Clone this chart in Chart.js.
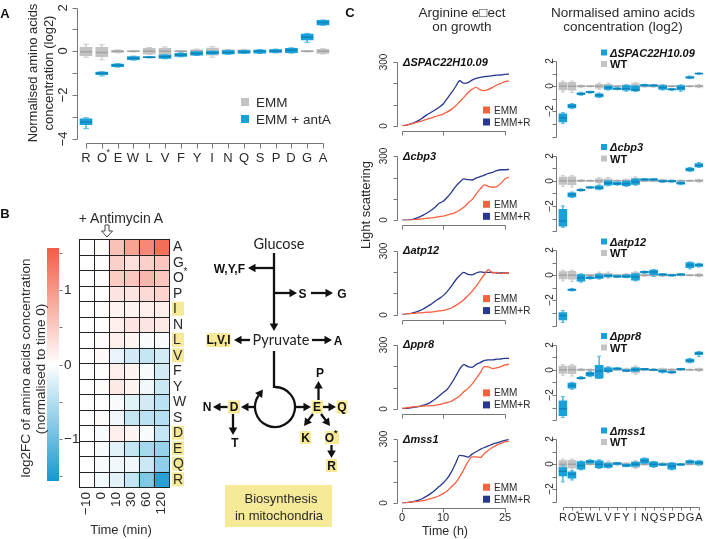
<!DOCTYPE html>
<html><head><meta charset="utf-8">
<script src="https://cdn.jsdelivr.net/npm/chart.js@4.4.1/dist/chart.umd.min.js"></script>
<style>
html,body{margin:0;padding:0;background:#fff;}
#wrap{position:relative;width:709px;height:539px;overflow:hidden;background:#fff;}
#wrap canvas{position:absolute;left:0;top:0;}
#ann{position:absolute;left:0;top:0;}
</style></head><body>
<div id="wrap">
<canvas id="cA" width="709" height="539"></canvas>
<canvas id="cHeat" width="709" height="539"></canvas>
<canvas id="cBar" width="709" height="539"></canvas>
<canvas id="cG0" width="709" height="539"></canvas>
<canvas id="cG1" width="709" height="539"></canvas>
<canvas id="cG2" width="709" height="539"></canvas>
<canvas id="cG3" width="709" height="539"></canvas>
<canvas id="cG4" width="709" height="539"></canvas>
<canvas id="cB0" width="709" height="539"></canvas>
<canvas id="cB1" width="709" height="539"></canvas>
<canvas id="cB2" width="709" height="539"></canvas>
<canvas id="cB3" width="709" height="539"></canvas>
<canvas id="cB4" width="709" height="539"></canvas>
<svg id="ann" width="709" height="539" xmlns="http://www.w3.org/2000/svg"></svg>
</div>
<script>
// ---------------- DATA ----------------
const aminoAcids = ['R','O*','E','W','L','V','F','Y','I','N','Q','S','P','D','G','A'];
// boxes: [lower whisker, Q1, median, Q3, upper whisker]
const emmBox = [
 [-0.27,-0.2,-0.02,0.18,0.33],[-0.39,-0.24,-0.05,0.18,0.3],[-0.07,-0.05,0,0.05,0.07],[-0.03,-0.02,0,0.02,0.03],
 [-0.15,-0.12,0,0.14,0.17],[-0.25,-0.17,0,0.14,0.2],[-0.03,-0.02,0,0.02,0.03],[-0.1,-0.07,0,0.07,0.1],
 [-0.27,-0.17,0,0.15,0.22],[-0.09,-0.07,0,0.07,0.09],[-0.09,-0.07,0,0.07,0.09],[-0.07,-0.05,0,0.05,0.07],
 [-0.05,-0.04,0,0.04,0.05],[-0.03,-0.02,0,0.02,0.03],[-0.03,-0.02,0,0.02,0.03],[-0.12,-0.09,0,0.09,0.12]];
const antABox = [
 [-3.53,-3.35,-3.22,-3.08,-3.03],[-1.12,-1.06,-1.0,-0.95,-0.93],[-0.72,-0.7,-0.64,-0.58,-0.56],[-0.4,-0.38,-0.31,-0.24,-0.22],
 [-0.3,-0.29,-0.27,-0.25,-0.24],[-0.34,-0.32,-0.25,-0.17,-0.15],[-0.25,-0.23,-0.17,-0.09,-0.07],[-0.19,-0.17,-0.1,-0.02,0.0],
 [-0.14,-0.12,-0.08,0.0,0.02],[-0.14,-0.12,-0.05,0.03,0.05],[-0.1,-0.08,-0.03,0.03,0.05],[-0.1,-0.08,0.0,0.06,0.08],
 [-0.07,-0.05,0.02,0.08,0.1],[-0.08,-0.06,0.05,0.14,0.16],[0.41,0.52,0.64,0.79,0.82],[1.19,1.21,1.32,1.41,1.43]];
const aYTicks = [2,1,0,-1,-2,-3,-4];
const aYLabels = ['2','','0','','\u22122','','\u22124'];

const heatTimes = ['\u221210','0','10','30','60','120'];
const heatRows = ['A','G','O*','P','I','N','L','V','F','Y','W','S','D','E','Q','R'];
const mitoRows = ['I','L','V','D','E','Q','R'];
const heatLog2FC = [
 [0,0.03,0.6,0.9,1.15,1.4],      // A
 [0,0.02,0.45,0.3,0.45,0.55],    // G
 [0,0.02,0.5,0.55,0.7,0.55],     // O*
 [0,0.02,0.25,0.25,0.35,0.4],    // P
 [0,0,0.1,0.1,0.15,0.15],        // I
 [0,0,0.15,0.25,0.25,0.2],       // N
 [0,0.03,0.15,0.1,-0.05,-0.05],  // L
 [0,0.05,-0.15,-0.3,-0.4,-0.3],  // V
 [0,0.02,0.15,0.1,-0.05,-0.3],   // F
 [0,0.03,0.2,0.1,-0.1,-0.35],    // Y
 [0,0,-0.05,-0.2,-0.3,-0.45],    // W
 [0,0.03,-0.1,-0.4,-0.45,-0.5],  // S
 [0,-0.05,0.15,0.1,-0.05,-0.4],  // D
 [0,-0.05,-0.2,-0.4,-0.6,-0.7],  // E
 [0,-0.05,-0.1,-0.1,-0.35,-0.75],// Q
 [0,-0.08,-0.2,-0.4,-0.85,-1.45] // R
];
const cbTicks = [-1.5,-1,-0.5,0,0.5,1,1.5];
const cbLabels = ['','\u22121','','0','','1',''];

const strains = ['\u0394SPAC22H10.09','\u0394cbp3','\u0394atp12','\u0394ppr8','\u0394mss1'];
const growthTime = [0,1,2,3,4,5,6,7,8,9,10,11,12,13,14,15,16,17,18,19,20,21,22,23,24,25,26];
const emmSPAC  = [0,4,9,14,19,25,31,37,44,50,56,66,78,94,114,134,156,172,181,169,166,172,181,192,200,208,212];
const argSPAC  = [0,4,9,16,25,38,52,63,75,88,103,130,156,184,212,200,203,215,223,228,231,234,236,238,239,242,244];
const emmCbp3  = [0,0,0,3,5,7,9,11,14,17,20,25,30,37,48,61,80,97,123,147,166,159,155,158,173,194,202];
const argCbp3  = [0,1,2,7,14,23,33,46,61,80,89,108,131,158,178,194,191,189,198,205,212,220,225,233,237,237,239];
const emmAtp12 = [0,3,5,6,8,9,11,12,14,17,20,25,31,42,55,70,89,109,133,161,188,211,195,198,192,195,195];
const argAtp12 = [0,2,5,10,16,25,36,48,62,75,89,109,133,161,183,198,188,186,195,200,198,198,198,195,195,195,195];
const emmPpr8  = [3,5,8,10,12,13,14,15,17,20,25,30,36,48,61,80,95,116,142,170,198,197,189,192,198,206,209];
const argPpr8  = [0,2,5,8,11,16,22,32,45,60,77,92,120,152,186,208,198,195,209,217,228,230,230,233,234,237,237];
const emmMss1  = [0,2,5,7,9,12,16,21,27,35,45,58,77,95,123,158,194,217,217,214,233,248,261,272,280,287,291];
const argMss1  = [0,2,5,9,14,22,33,46,61,78,95,116,147,186,224,222,216,230,241,252,261,269,277,283,289,295,300];
const growthYTicks = [0,100,200,300];
const growthYLabels = ['0','','','300'];
const growthXTicks = [0,10,25];
const growthXLabels = ['0','10','25'];

const wtBox = [
 [-0.45,-0.3,0,0.28,0.4],[-0.5,-0.32,0,0.3,0.4],[-0.08,-0.05,0,0.05,0.08],[-0.05,-0.03,0,0.03,0.05],
 [-0.25,-0.15,0,0.15,0.25],[-0.25,-0.15,0,0.15,0.25],[-0.05,-0.03,0,0.03,0.05],[-0.12,-0.08,0,0.08,0.12],
 [-0.35,-0.25,0,0.2,0.3],[-0.08,-0.05,0,0.05,0.08],[-0.08,-0.05,0,0.05,0.08],[-0.12,-0.08,0,0.08,0.12],
 [-0.06,-0.04,0,0.04,0.06],[-0.05,-0.03,0,0.03,0.05],[-0.05,-0.03,0,0.03,0.05],[-0.12,-0.08,0,0.08,0.12]];
const boxSPAC = [
 [-2.95,-2.83,-2.5,-2.19,-2.1],[-1.78,-1.73,-1.6,-1.44,-1.38],[-0.72,-0.68,-0.6,-0.52,-0.48],[-0.55,-0.52,-0.47,-0.42,-0.4],
 [-0.9,-0.85,-0.72,-0.6,-0.55],[-0.3,-0.25,-0.13,0.0,0.05],[-0.28,-0.25,-0.2,-0.12,-0.08],[-0.4,-0.32,-0.2,0.05,0.1],
 [-0.42,-0.38,-0.28,0.0,0.05],[0.0,0.03,0.08,0.12,0.15],[0.0,0.02,0.05,0.1,0.12],[-0.3,-0.25,-0.1,0.05,0.1],
 [-0.35,-0.3,-0.25,-0.2,-0.18],[-0.4,-0.3,-0.15,0.05,0.1],[0.6,0.63,0.7,0.76,0.8],[0.95,0.97,1.0,1.03,1.05]];
const boxCbp3 = [
 [-3.7,-3.6,-3.2,-2.27,-2.0],[-1.35,-1.28,-1.1,-0.96,-0.9],[-0.82,-0.8,-0.75,-0.68,-0.65],[-0.6,-0.58,-0.53,-0.48,-0.45],
 [-0.72,-0.67,-0.55,-0.4,-0.35],[-0.4,-0.35,-0.2,-0.03,0.0],[-0.35,-0.32,-0.25,-0.12,-0.08],[-0.45,-0.4,-0.25,-0.05,0.0],
 [-0.35,-0.3,-0.1,0.12,0.15],[0.02,0.05,0.1,0.15,0.18],[0.02,0.05,0.1,0.15,0.18],[-0.12,-0.1,-0.05,0.0,0.03],
 [-0.12,-0.1,-0.05,0.0,0.03],[-0.32,-0.28,-0.2,-0.1,-0.07],[0.75,0.78,0.88,1.0,1.05],[1.05,1.1,1.2,1.35,1.45]];
const boxAtp12 = [
 [-3.75,-3.55,-3.2,-2.96,-2.8],[-1.25,-1.2,-1.15,-1.1,-1.05],[-0.55,-0.48,-0.2,0.05,0.1],[-0.3,-0.27,-0.2,-0.13,-0.1],
 [-0.3,-0.25,-0.15,0.05,0.1],[-0.15,-0.12,-0.05,0.02,0.05],[-0.18,-0.15,-0.1,-0.05,-0.02],[-0.2,-0.17,-0.1,0.0,0.05],
 [-0.45,-0.4,-0.15,0.1,0.15],[0.15,0.18,0.25,0.3,0.33],[-0.1,0.05,0.25,0.4,0.45],[-0.02,0.0,0.05,0.1,0.12],
 [-0.07,-0.05,0.0,0.05,0.07],[-0.02,0.0,0.05,0.1,0.12],[0.5,0.6,0.78,1.0,1.05],[0.65,0.7,0.8,0.9,0.95]];
const boxPpr8 = [
 [-3.8,-3.65,-3.1,-2.48,-2.13],[-1.55,-1.47,-1.25,-1.07,-1.0],[-0.75,-0.72,-0.67,-0.6,-0.55],[-0.55,-0.5,-0.35,-0.2,-0.15],
 [-0.7,-0.67,-0.1,0.35,1.07],[-0.2,-0.15,-0.08,0.15,0.2],[0.0,0.03,0.08,0.15,0.18],[-0.15,-0.12,-0.08,-0.02,0.0],
 [-0.15,-0.12,0.0,0.12,0.15],[-0.02,0.0,0.05,0.08,0.1],[-0.05,-0.03,0.0,0.03,0.05],[-0.25,-0.2,-0.13,-0.05,-0.02],
 [-0.28,-0.25,-0.2,-0.15,-0.12],[-0.02,0.0,0.05,0.08,0.1],[0.55,0.6,0.72,0.85,0.9],[1.05,1.2,1.3,1.4,1.45]];
const boxMss1 = [
 [-1.4,-0.93,-0.55,-0.27,-0.1],[-1.25,-1.1,-0.8,-0.6,-0.5],[-0.45,-0.4,-0.1,0.2,0.25],[0.05,0.08,0.2,0.3,0.35],
 [-0.35,-0.27,0.0,0.27,0.35],[-0.3,-0.25,-0.1,0.05,0.1],[-0.05,-0.02,0.05,0.12,0.15],[-0.2,-0.17,-0.1,-0.02,0.0],
 [-0.2,-0.15,0.0,0.15,0.2],[0.05,0.08,0.27,0.45,0.5],[-0.25,-0.2,0.0,0.18,0.22],[-0.1,-0.08,-0.03,0.02,0.05],
 [-0.45,-0.4,-0.15,0.08,0.12],[-0.1,-0.08,-0.03,0.02,0.05],[0.05,0.08,0.18,0.28,0.32],[-0.05,0.0,0.12,0.25,0.3]];
const boxYTicks = [2,1,0,-1,-2,-3,-4];
const boxYLabels = ['2','','0','','\u22122','',''];

// ---------------- STYLE ----------------
const FONT = "'Liberation Sans', Arial, Helvetica, sans-serif";
const DFONT = "Lato, 'Liberation Sans', sans-serif";
const BLUE = '#1AA0D8', BLUE_MED = '#0B84BC', BLUE_WH = '#5DBBE3';
const GREY = '#C3C3C3', GREY_MED = '#A3A3A3', GREY_WH = '#D0D0D0';
const EMM_RED = '#F8603F', ARG_NAVY = '#283891';
const AXIS = '#777', LABEL = '#2a2a2a', HL = '#F6EA98';
const HEAT_HIGH = [242,92,69], HEAT_LOW = [22,152,208], HEAT_LIM = 1.57;

function pad(l, t, r, b) { return {left: l, top: t, right: 709 - r, bottom: 539 - b}; }
function heatColor(v) {
  const t = Math.max(-1, Math.min(1, v / HEAT_LIM));
  const end = t >= 0 ? HEAT_HIGH : HEAT_LOW, a = Math.abs(t);
  return 'rgb(' + end.map(c => Math.round(255 + (c - 255) * a)).join(',') + ')';
}
function drawSup(ctx, lab, x, y, size, align) {
  ctx.textBaseline = 'middle';
  if (lab.endsWith('*')) {
    const base = lab.slice(0, -1);
    const w = ctx.measureText(base).width;
    const x0 = align === 'center' ? x - w / 2 : x;
    ctx.textAlign = 'left';
    ctx.fillText(base, x0, y);
    ctx.save(); ctx.font = Math.round(size * 0.72) + 'px ' + FONT;
    ctx.fillText('*', x0 + w - 0.5, y - size * 0.42);
    ctx.restore();
  } else {
    ctx.textAlign = align === 'center' ? 'center' : 'left';
    ctx.fillText(lab, x, y);
  }
}
const rAxis = {
  id: 'rAxis',
  afterDraw(chart, args, opts) {
    const ctx = chart.ctx;
    for (const a of (opts.axes || [])) {
      const sc = chart.scales[a.scale];
      const px = a.ticks.map(v => Math.round(sc.getPixelForValue(v)) + 0.5);
      const lo = Math.min(...px), hi = Math.max(...px), at = a.at + 0.5;
      ctx.save();
      ctx.strokeStyle = AXIS; ctx.lineWidth = 1; ctx.beginPath();
      if (a.side === 'left' || a.side === 'right') {
        const dir = a.side === 'left' ? -1 : 1;
        if (!a.noLine) { ctx.moveTo(at, lo); ctx.lineTo(at, hi); }
        px.forEach(p => { ctx.moveTo(at, p); ctx.lineTo(at + dir * a.len, p); });
      } else {
        ctx.moveTo(lo, at); ctx.lineTo(hi, at);
        px.forEach(p => { ctx.moveTo(p, at); ctx.lineTo(p, at + a.len); });
      }
      ctx.stroke();
      ctx.fillStyle = LABEL; ctx.font = a.size + 'px ' + FONT;
      (a.labels || []).forEach((lab, i) => {
        if (!lab) return;
        const p = px[i] - 0.5;
        if (a.side === 'left') {
          ctx.save(); ctx.translate(a.labelAt, p); ctx.rotate(-Math.PI / 2);
          ctx.textAlign = 'center'; ctx.textBaseline = 'middle'; ctx.fillText(lab, 0, 0); ctx.restore();
        } else if (a.side === 'right') {
          ctx.textAlign = 'left'; ctx.textBaseline = 'middle'; ctx.fillText(lab, a.labelAt, p);
        } else {
          drawSup(ctx, lab, p, a.labelAt, a.size, 'center');
        }
      });
      ctx.restore();
    }
  }
};
const heatDecor = {
  id: 'heatDecor',
  afterDatasetsDraw(chart) {
    const ctx = chart.ctx, xs = chart.scales.x, ys = chart.scales.y;
    const nC = heatTimes.length, nR = heatRows.length;
    ctx.save();
    ctx.strokeStyle = '#222'; ctx.lineWidth = 1; ctx.beginPath();
    for (let k = 0; k <= nC; k++) { const x = Math.round(xs.getPixelForValue(k)) + 0.5; ctx.moveTo(x, ys.getPixelForValue(nR)); ctx.lineTo(x, ys.getPixelForValue(0)); }
    for (let k = 0; k <= nR; k++) { const y = Math.round(ys.getPixelForValue(k)) + 0.5; ctx.moveTo(xs.getPixelForValue(0), y); ctx.lineTo(xs.getPixelForValue(nC) + 1, y); }
    ctx.stroke();
    ctx.font = '14px ' + FONT;
    heatRows.forEach((r, i) => {
      const yc = ys.getPixelForValue(nR - i - 0.5);
      if (mitoRows.includes(r)) { ctx.fillStyle = HL; ctx.fillRect(172, yc - 7, 12, 14); }
      ctx.fillStyle = LABEL;
      drawSup(ctx, r, 173, yc + 0.5, 14, 'left');
    });
    ctx.font = '13.5px ' + FONT;
    heatTimes.forEach((t, j) => {
      const xc = xs.getPixelForValue(j + 0.5);
      ctx.save(); ctx.translate(xc, 492); ctx.rotate(-Math.PI / 2);
      ctx.textAlign = 'right'; ctx.textBaseline = 'middle'; ctx.fillText(t, 0, 0); ctx.restore();
    });
    ctx.restore();
  }
};
const common = {responsive: false, maintainAspectRatio: false, animation: false, devicePixelRatio: 1, events: []};
function linX(min, max) { return {type: 'linear', min: min, max: max, offset: false, display: false, grid: {offset: false}}; }
function linY(min, max) { return {type: 'linear', min: min, max: max, display: false}; }

function boxSets(box, fill, med, wh, width, o) {
  return [
    {type: 'scatter', data: box.map((b, i) => ({x: i, y: b[2]})), pointStyle: 'line', pointRadius: width / 2,
     pointBorderColor: med, pointBorderWidth: 1.5, pointHoverRadius: 0, order: o},
    {type: 'bar', data: box.map((b, i) => ({x: i, y: [b[1], b[3]]})), backgroundColor: fill, borderWidth: 0,
     barThickness: width, grouped: false, order: o + 1},
    {type: 'scatter', data: box.flatMap((b, i) => [{x: i, y: b[0]}, {x: i, y: b[4]}]), pointStyle: 'line',
     pointRadius: width / 4, pointBorderColor: wh, pointBorderWidth: 1, order: o + 2},
    {type: 'bar', data: box.map((b, i) => ({x: i, y: [b[0], b[4]]})), backgroundColor: wh, borderWidth: 0,
     barThickness: 1, grouped: false, order: o + 3}
  ];
}

// ---------------- PANEL A ----------------
new Chart(document.getElementById('cA'), {
  type: 'bar',
  data: {datasets: [...boxSets(antABox, BLUE, BLUE_MED, BLUE_WH, 12, 0), ...boxSets(emmBox, GREY, GREY_MED, GREY_WH, 12, 4)]},
  options: {...common, layout: {padding: pad(78.1, 7, 330.9, 139)},
    scales: {x: linX(-0.5, 15.5), y: linY(-4, 2)},
    plugins: {legend: {display: false}, tooltip: {enabled: false},
      rAxis: {axes: [
        {scale: 'y', side: 'left', at: 77, len: 5, ticks: aYTicks, labels: aYLabels, labelAt: 63, size: 13},
        {scale: 'x', side: 'bottom', at: 143, len: 5, ticks: aminoAcids.map((a, i) => i), labels: aminoAcids, labelAt: 158, size: 13}
      ]}}},
  plugins: [rAxis]
});

// ---------------- PANEL B heatmap ----------------
new Chart(document.getElementById('cHeat'), {
  type: 'bar',
  data: {datasets: heatRows.map((r, i) => ({
    label: r,
    data: heatTimes.map((t, j) => ({x: j + 0.5, y: [heatRows.length - i - 1, heatRows.length - i]})),
    backgroundColor: heatLog2FC[i].map(heatColor), borderWidth: 0, barThickness: 15, grouped: false
  }))},
  options: {...common, layout: {padding: pad(79, 239, 169, 487)},
    scales: {x: linX(0, heatTimes.length), y: linY(0, heatRows.length)},
    plugins: {legend: {display: false}, tooltip: {enabled: false}}},
  plugins: [heatDecor]
});
new Chart(document.getElementById('cBar'), {
  type: 'bar',
  data: {datasets: [{data: [{x: 0, y: [-HEAT_LIM, HEAT_LIM]}], borderWidth: 0, barThickness: 12,
    backgroundColor: (c) => {
      const ca = c.chart.chartArea; if (!ca) return '#fff';
      const g = c.chart.ctx.createLinearGradient(0, ca.bottom, 0, ca.top);
      g.addColorStop(0, 'rgb(' + HEAT_LOW.join(',') + ')'); g.addColorStop(0.5, '#fff'); g.addColorStop(1, 'rgb(' + HEAT_HIGH.join(',') + ')');
      return g;
    }}]},
  options: {...common, layout: {padding: pad(47, 248, 59, 481)},
    scales: {x: linX(-0.5, 0.5), y: linY(-HEAT_LIM, HEAT_LIM)},
    plugins: {legend: {display: false}, tooltip: {enabled: false},
      rAxis: {axes: [{scale: 'y', side: 'right', at: 59, noLine: true, len: 3, ticks: cbTicks, labels: cbLabels, labelAt: 64, size: 13.5}]}}},
  plugins: [rAxis]
});

// ---------------- PANEL C ----------------
const growthEMM = [emmSPAC, emmCbp3, emmAtp12, emmPpr8, emmMss1];
const growthARG = [argSPAC, argCbp3, argAtp12, argPpr8, argMss1];
const strainBoxes = [boxSPAC, boxCbp3, boxAtp12, boxPpr8, boxMss1];
function gY0(i) { return 126 + 94.3 * i; }
function bTop(i) { return 61 + 94.5 * i; }

strains.forEach((s, i) => {
  const y0 = gY0(i), last = i === strains.length - 1;
  new Chart(document.getElementById('cG' + i), {
    type: 'line',
    data: {datasets: [
      {label: 'EMM', data: growthTime.map((t, k) => ({x: t, y: growthEMM[i][k]})), borderColor: EMM_RED, borderWidth: 1.3, pointRadius: 0, cubicInterpolationMode: 'monotone'},
      {label: 'EMM+R', data: growthTime.map((t, k) => ({x: t, y: growthARG[i][k]})), borderColor: ARG_NAVY, borderWidth: 1.3, pointRadius: 0, cubicInterpolationMode: 'monotone'}
    ]},
    options: {...common, layout: {padding: pad(402, y0 - 64, 509.1, y0)},
      scales: {x: linX(0, 26), y: linY(0, 300)},
      plugins: {legend: {display: false}, tooltip: {enabled: false},
        rAxis: {axes: [
          {scale: 'y', side: 'left', at: 397, len: 4, ticks: growthYTicks, labels: growthYLabels, labelAt: 384, size: 10},
          {scale: 'x', side: 'bottom', at: Math.round(y0 + 5), len: 4, ticks: growthXTicks, labels: last ? growthXLabels : null, labelAt: 518, size: 11}
        ]}}},
    plugins: [rAxis]
  });

  const top = bTop(i), ymin = last ? -3 : -4, bottom = top + (2 - ymin) * 12.6;
  const keep = boxYTicks.map((v, k) => k).filter(k => boxYTicks[k] >= ymin);
  const axes = [{scale: 'y', side: 'left', at: 556, len: 4, ticks: keep.map(k => boxYTicks[k]), labels: keep.map(k => boxYLabels[k]), labelAt: 550, size: 10}];
  if (last) axes.push({scale: 'x', side: 'bottom', at: 507, len: 3, ticks: aminoAcids.map((a, k) => k), labels: aminoAcids, labelAt: 518, size: 11});
  new Chart(document.getElementById('cB' + i), {
    type: 'bar',
    data: {datasets: [...boxSets(strainBoxes[i], BLUE, BLUE_MED, BLUE_WH, 8, 0), ...boxSets(wtBox, GREY, GREY_MED, GREY_WH, 8, 4)]},
    options: {...common, layout: {padding: pad(558.3, top, 708.2, bottom)},
      scales: {x: linX(-0.5, 15.5), y: linY(ymin, 2)},
      plugins: {legend: {display: false}, tooltip: {enabled: false}, rAxis: {axes}}},
    plugins: [rAxis]
  });
});

// ---------------- ANNOTATIONS (SVG text & diagram) ----------------
const svg = document.getElementById('ann');
const NS = 'http://www.w3.org/2000/svg';
function el(tag, attrs, parent) { const e = document.createElementNS(NS, tag); for (const k in attrs) e.setAttribute(k, attrs[k]); (parent || svg).appendChild(e); return e; }
function T(x, y, str, o) {
  o = o || {};
  const size = o.size || 13;
  const t = el('text', {x: x, y: y, 'font-family': o.ff || FONT, 'font-size': size, 'font-weight': o.bold ? 'bold' : 'normal',
    'font-style': o.italic ? 'italic' : 'normal', fill: o.fill || LABEL, 'text-anchor': o.anchor || 'middle', 'dominant-baseline': 'central'});
  if (o.rot) t.setAttribute('transform', 'rotate(' + o.rot + ' ' + x + ' ' + y + ')');
  if (o.sup && str.endsWith('*')) {
    t.appendChild(document.createTextNode(str.slice(0, -1)));
    const ts = el('tspan', {dy: -size * 0.35, 'font-size': size * 0.72}, t); ts.textContent = '*';
  } else t.textContent = str;
  return t;
}
function Rc(x, y, w, h, fill) { return el('rect', {x: x, y: y, width: w, height: h, fill: fill}); }
function arrow(x1, y1, x2, y2) {
  const dx = x2 - x1, dy = y2 - y1, L = Math.hypot(dx, dy), ux = dx / L, uy = dy / L, hl = 7.5, hw = 4.3;
  const bx = x2 - ux * hl, by = y2 - uy * hl;
  el('line', {x1: x1, y1: y1, x2: bx + ux, y2: by + uy, stroke: '#111', 'stroke-width': 2.3});
  el('polygon', {points: `${x2},${y2} ${bx - uy * hw},${by + ux * hw} ${bx + uy * hw},${by - ux * hw}`, fill: '#111'});
}

// panel letters
T(5, 13, 'A', {bold: true, size: 13, fill: '#111'});
T(5, 213, 'B', {bold: true, size: 13, fill: '#111'});
T(350, 12, 'C', {bold: true, size: 13, fill: '#111'});

// panel A
T(32, 73, 'Normalised amino acids', {rot: -90, size: 13});
T(48, 73, 'concentration (log2)', {rot: -90, size: 13});
Rc(241, 98, 8, 8, GREY); T(256, 102, 'EMM', {anchor: 'start', size: 13.5});
Rc(241, 115, 8, 8, BLUE); T(256, 119, 'EMM + antA', {anchor: 'start', size: 13.5});

// panel B heatmap labels
T(121, 218, '+ Antimycin A', {size: 14});
el('path', {d: 'M105,225 h4 v6 h3.5 l-5.5,6 l-5.5,-6 h3.5 z', fill: '#fff', stroke: '#444', 'stroke-width': 1});
T(25, 368, 'log2FC of amino acids concentration', {rot: -90, size: 13.5});
T(40, 369, '(normalised to time 0)', {rot: -90, size: 13.5});
T(121, 529, 'Time (min)', {size: 13});

// panel B diagram
[[206.5, 333, 24, 14], [228, 400.5, 12, 13], [311.5, 400.5, 11.5, 13], [336.5, 400.5, 11, 13],
 [300, 431, 11, 13], [325, 431, 14, 13], [326, 459, 11, 13]].forEach(r => Rc(r[0], r[1], r[2], r[3], HL));
Rc(225, 485, 107, 42, HL);
T(279, 243, 'Glucose', {ff: DFONT, size: 14.5, fill: '#222'});
T(281, 339.5, 'Pyruvate', {ff: DFONT, size: 14.5, fill: '#222'});
const B = {bold: true, size: 12, fill: '#111'};
T(245, 269, 'W,Y,F', {...B, anchor: 'end'});
T(302.5, 293.5, 'S', B); T(342, 293.5, 'G', B);
T(218.5, 340, 'L,V,I', B); T(338, 340.5, 'A', B);
T(207, 407, 'N', B); T(234, 407, 'D', B); T(235, 443, 'T', B);
T(317, 407, 'E', B); T(342, 407, 'Q', B); T(320, 373, 'P', B);
T(305.5, 437.5, 'K', B); T(331, 437.5, 'O*', {...B, sup: true}); T(331.5, 465.5, 'R', B);
T(281, 498, 'Biosynthesis', {size: 13}); T(279, 515, 'in mitochondria', {size: 13});
[[274, 253, 274, 331], [274, 268, 248, 268], [274, 293, 297, 293], [311, 293, 333, 293],
 [250, 340, 234, 340], [312, 340, 332, 340], [255, 407, 241, 407], [227.5, 407, 213, 407],
 [233, 414, 233, 435], [295, 407, 311, 407], [318.5, 400, 318.5, 381], [323, 407, 336, 407],
 [313, 414, 304, 426], [321, 414, 330, 426], [331.5, 445, 331.5, 458]].forEach(a => arrow(a[0], a[1], a[2], a[3]));
el('line', {x1: 274, y1: 351, x2: 274, y2: 388, stroke: '#111', 'stroke-width': 2.3});
(function () {
  const cx = 275, cy = 407, r = 20, a1 = 215 * Math.PI / 180;
  const ex = cx + r * Math.cos(a1), ey = cy + r * Math.sin(a1);
  el('path', {d: `M${cx},${cy - r} A${r},${r} 0 1 1 ${ex},${ey}`, fill: 'none', stroke: '#111', 'stroke-width': 2.3});
  const tx = -Math.sin(a1), ty = Math.cos(a1), hw = 4.3, hl = 7.5;
  el('polygon', {points: `${ex + tx * hl},${ey + ty * hl} ${ex - ty * hw},${ey + tx * hw} ${ex + ty * hw},${ey - tx * hw}`, fill: '#111'});
})();

// panel C headings
T(462, 12, 'Arginine e\u25A1ect', {size: 13.5});
T(462, 26, 'on growth', {size: 13.5});
T(623, 12, 'Normalised amino acids', {size: 13.5});
T(623, 26, 'concentration (log2)', {size: 13.5});
T(365, 205, 'Light scattering', {rot: -90, size: 13});
T(445, 531, 'Time (h)', {size: 12.5});
strains.forEach((s, i) => {
  const y0 = gY0(i), top = bTop(i);
  T(403, y0 - 64.5, s, {anchor: 'start', bold: true, italic: true, size: 11, fill: '#111'});
  Rc(483, y0 - 19.5, 7, 7, EMM_RED); T(494, y0 - 16, 'EMM', {anchor: 'start', size: 10});
  Rc(483, y0 - 7.5, 7, 7, ARG_NAVY); T(494, y0 - 4, 'EMM+R', {anchor: 'start', size: 10});
  Rc(601, top - 11.5, 6, 6, BLUE); T(610, top - 8.5, s, {anchor: 'start', bold: true, italic: true, size: 11, fill: '#111'});
  Rc(601, top, 6, 6, GREY); T(610, top + 3, 'WT', {anchor: 'start', bold: true, size: 11, fill: '#111'});
});
</script>
</body></html>
